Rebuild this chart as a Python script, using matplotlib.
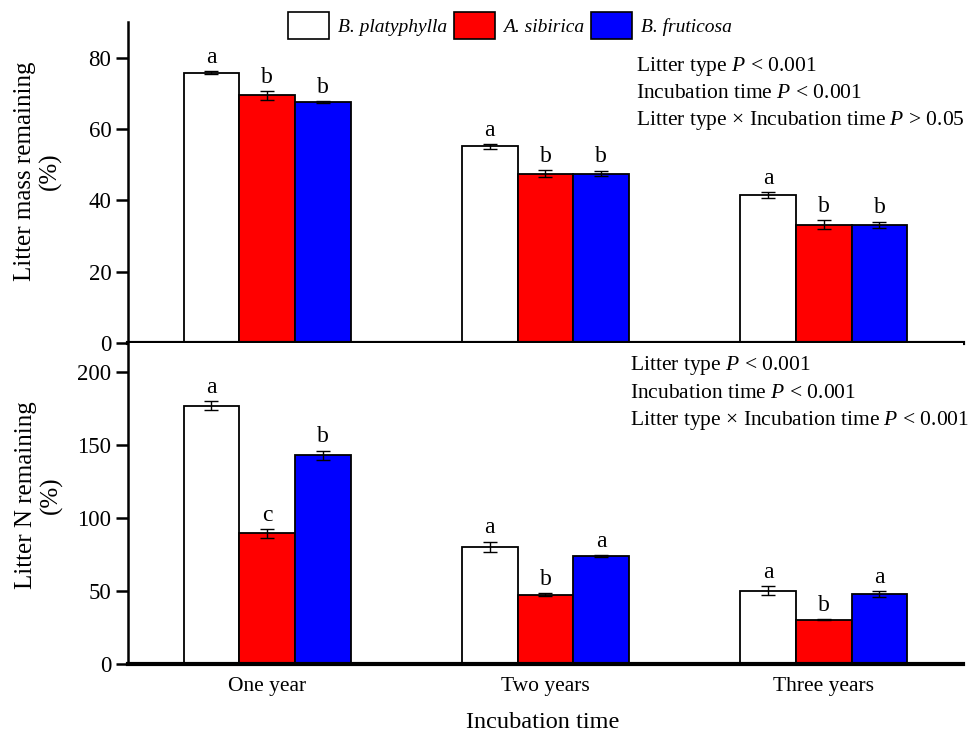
import numpy as np
import matplotlib
matplotlib.use("Agg")
import matplotlib.pyplot as plt
from matplotlib.patches import Patch

plt.rcParams['font.family'] = ['Liberation Serif', 'DejaVu Serif']
plt.rcParams['mathtext.fontset'] = 'custom'
plt.rcParams['mathtext.rm'] = 'Liberation Serif'
plt.rcParams['mathtext.it'] = 'Liberation Serif:italic'

# data
periods = ["One year", "Two years", "Three years"]
species = ["B. platyphylla", "A. sibirica", "B. fruticosa"]
colors = ["white", "#ff0000", "#0000ff"]

mass_mean = [[75.8, 55.1, 41.5],   # B. platyphylla
             [69.4, 47.5, 33.2],   # A. sibirica
             [67.5, 47.5, 33.1]]   # B. fruticosa
mass_err = [[0.4, 0.7, 0.8],
            [1.2, 1.0, 1.2],
            [0.3, 0.8, 0.9]]
mass_letters = [["a", "a", "a"],
                ["b", "b", "b"],
                ["b", "b", "b"]]

n_mean = [[177.1, 80.2, 50.3],
          [89.6, 47.5, 30.4],
          [142.9, 74.1, 47.8]]
n_err = [[3.0, 3.7, 2.9],
         [3.0, 1.0, 0.5],
         [3.3, 0.5, 2.0]]
n_letters = [["a", "a", "a"],
             ["c", "b", "b"],
             ["b", "a", "a"]]

mass_stats = ["Litter type $P$ < 0.001",
              "Incubation time $P$ < 0.001",
              "Litter type \u00d7 Incubation time $P$ > 0.05"]
n_stats = ["Litter type $P$ < 0.001",
           "Incubation time $P$ < 0.001",
           "Litter type \u00d7 Incubation time $P$ < 0.001"]

W, H = 979, 734
fig = plt.figure(figsize=(W / 100, H / 100), dpi=100)
left, right = 128 / W, 963 / W
ax1 = fig.add_axes([left, 1 - 343 / H, right - left, (343 - 22) / H])
ax2 = fig.add_axes([left, 1 - 664 / H, right - left, (664 - 343) / H])

x = np.arange(len(periods))
width = 0.2


def draw_panel(ax, means, errs, letters, ylim, yticks):
    for i in range(len(species)):
        pos = x + (i - 1) * width
        ax.bar(pos, means[i], width, color=colors[i], edgecolor="black",
               linewidth=1.3, zorder=2)
        ax.errorbar(pos, means[i], yerr=errs[i], fmt="none", ecolor="black",
                    elinewidth=1, capsize=5, capthick=1, zorder=3)
        for p, m, e, lt in zip(pos, means[i], errs[i], letters[i]):
            ax.annotate(lt, (p, m + e), xytext=(0, 6), textcoords="offset points",
                        ha="center", va="baseline", fontsize=17)
    ax.set_xlim(-0.5, 2.5)
    ax.set_ylim(*ylim)
    ax.set_yticks(yticks)
    for s in ["top", "right"]:
        ax.spines[s].set_visible(False)
    ax.spines["left"].set_linewidth(1.8)
    ax.spines["bottom"].set_linewidth(3)
    ax.tick_params(axis="y", direction="out", length=9, width=1.8,
                   labelsize=16.5, pad=3)
    ax.tick_params(axis="x", length=0, labelsize=15.5, pad=9)


draw_panel(ax1, mass_mean, mass_err, mass_letters, (0, 90), [0, 20, 40, 60, 80])
draw_panel(ax2, n_mean, n_err, n_letters, (0, 220), [0, 50, 100, 150, 200])
ax1.set_xticks([])
ax2.set_xticks(x)
ax2.set_xticklabels(periods)

fig.text(38 / W, 1 - 171 / H, "Litter mass remaining\n(%)", rotation=90,
         ha="center", va="center", multialignment="center", fontsize=18,
         linespacing=1.2)
fig.text(39 / W, 1 - 495 / H, "Litter N remaining\n(%)", rotation=90,
         ha="center", va="center", multialignment="center", fontsize=18,
         linespacing=1.2)
fig.text(543 / W, 1 - 723 / H, "Incubation time", ha="center", va="center",
         fontsize=17.5)

for k, line in enumerate(mass_stats):
    fig.text(636 / W, 1 - (66 + 27.5 * k) / H, line, ha="left", va="center",
             fontsize=15.5)
for k, line in enumerate(n_stats):
    fig.text(630 / W, 1 - (365 + 28 * k) / H, line, ha="left", va="center",
             fontsize=15.5)

handles = [Patch(facecolor=c, edgecolor="black", linewidth=1.2) for c in colors]
leg = fig.legend(handles, species, loc="center", bbox_to_anchor=(510 / W, 1 - 25.5 / H),
                 ncol=3, frameon=False, handlelength=2.1,
                 handleheight=1.75, handletextpad=0.45, columnspacing=0.35,
                 prop={"style": "italic", "size": 14})

fig.savefig("out.png", dpi=100)
